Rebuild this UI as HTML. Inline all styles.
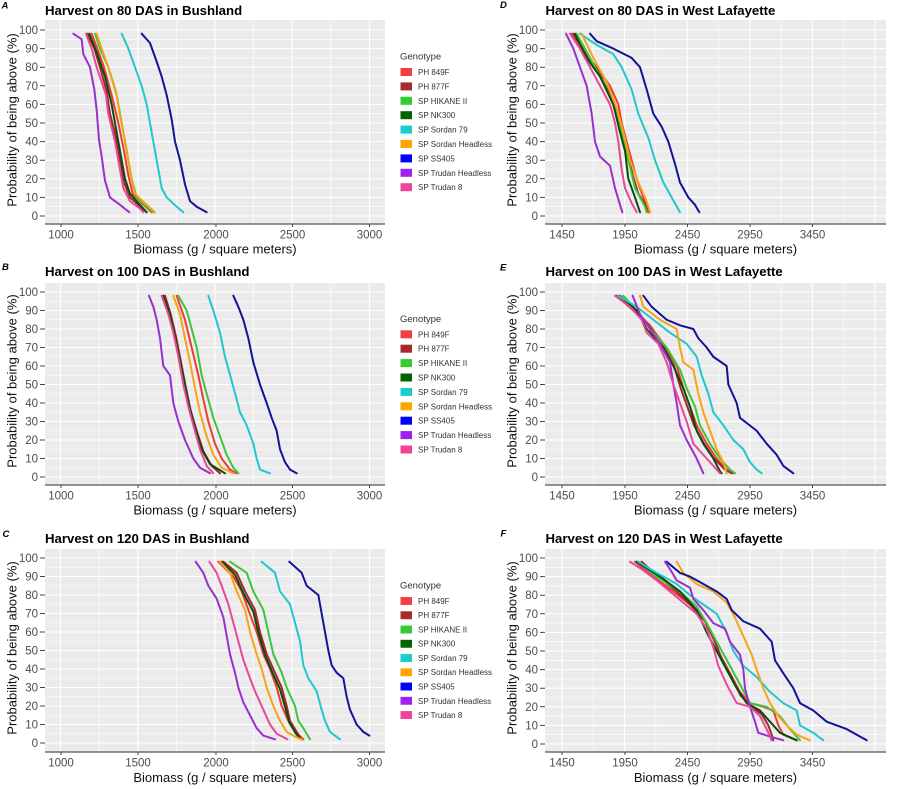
<!DOCTYPE html>
<html><head><meta charset="utf-8"><style>
html,body{margin:0;padding:0;background:#fff;}
svg{display:block;}
text{font-family:"Liberation Sans",Arial,sans-serif;}
.tt{font-size:13.2px;font-weight:bold;fill:#000;}
.lt{font-size:9.5px;font-weight:bold;font-style:italic;fill:#000;}
.ax{font-size:13px;fill:#111;}
.tk{font-size:11.5px;fill:#4d4d4d;}
.lg{font-size:8px;fill:#333;}
.lgt{font-size:9.5px;fill:#333;}
.gmin{stroke:#fff;stroke-width:0.6;fill:none;vector-effect:non-scaling-stroke;}
.gmaj{stroke:#fff;stroke-width:1.1;fill:none;vector-effect:non-scaling-stroke;}
.c{fill:none;stroke-width:2;stroke-linejoin:round;stroke-linecap:round;vector-effect:non-scaling-stroke;}
.r{stroke:#ee3b3b}.dr{stroke:#a0282a}.g{stroke:#3ec43e}.dg{stroke:#0a4d0a}.cy{stroke:#20c8cc}.o{stroke:#f7a414}.b{stroke:#13139a}.p{stroke:#9a2fd0}.pk{stroke:#e8479a}
.axl{stroke:#555;stroke-width:1.2;}
.tm{stroke:#444;stroke-width:1;}
</style></head><body>
<svg width="900" height="789" viewBox="0 0 900 789" xmlns="http://www.w3.org/2000/svg">
<rect width="900" height="789" fill="#fff"/>

<!-- backgrounds -->
<rect x="45" y="20" width="340" height="204" fill="#ebebeb"/>
<rect x="45" y="283" width="340" height="202" fill="#ebebeb"/>
<rect x="45" y="549" width="340" height="203" fill="#ebebeb"/>
<rect x="545" y="20" width="341" height="204" fill="#ebebeb"/>
<rect x="545" y="283" width="341" height="202" fill="#ebebeb"/>
<rect x="545" y="549" width="341" height="203" fill="#ebebeb"/>

<defs>
<g id="gridL">
<path class="gmin" d="M135,5H1155M135,15H1155M135,25H1155M135,35H1155M135,45H1155M135,55H1155M135,65H1155M135,75H1155M135,85H1155M135,95H1155"/>
<path class="gmaj" d="M135,0H1155M135,10H1155M135,20H1155M135,30H1155M135,40H1155M135,50H1155M135,60H1155M135,70H1155M135,80H1155M135,90H1155M135,100H1155"/>
<path class="gmin" d="M297.3,-4.3V105M529,-4.3V105M760.9,-4.3V105M992.6,-4.3V105"/>
<path class="gmaj" d="M181.5,-4.3V105M413.2,-4.3V105M645,-4.3V105M876.8,-4.3V105M1108.5,-4.3V105"/>
</g>
<g id="gridR">
<path class="gmin" d="M285,5H1308M285,15H1308M285,25H1308M285,35H1308M285,45H1308M285,55H1308M285,65H1308M285,75H1308M285,85H1308M285,95H1308"/>
<path class="gmaj" d="M285,0H1308M285,10H1308M285,20H1308M285,30H1308M285,40H1308M285,50H1308M285,60H1308M285,70H1308M285,80H1308M285,90H1308M285,100H1308"/>
<path class="gmin" d="M430,-4.3V105M617.7,-4.3V105M805.5,-4.3V105M993.3,-4.3V105M1181,-4.3V105"/>
<path class="gmaj" d="M336,-4.3V105M523.8,-4.3V105M711.6,-4.3V105M899.4,-4.3V105M1087.2,-4.3V105M1275,-4.3V105"/>
</g>
</defs>

<!-- Panel A -->
<g transform="matrix(0.33333,0,0,-1.86,0,216)">
<use href="#gridL"/>
<polyline class="c r" points="275,98 292,90 312,80 335,65 355,50 372,35 385,22 398,12 425,7 455,2"/>
<polyline class="c dr" points="262,98 283,90 300,80 320,67 330,55 348,42 360,30 372,18 390,10 415,6 440,2"/>
<polyline class="c g" points="285,98 300,90 325,80 350,65 365,50 380,35 395,20 410,10 440,5 460,2"/>
<polyline class="c dg" points="268,98 290,88 315,75 335,60 350,45 365,30 375,20 390,12 420,6 440,2"/>
<polyline class="c cy" points="365,98 385,90 405,80 425,70 440,60 450,50 460,40 470,30 485,15 500,10 530,5 550,2"/>
<polyline class="c o" points="290,98 305,90 325,80 348,67 362,52 378,38 392,22 405,12 440,6 465,2"/>
<polyline class="c b" points="425,98 450,93 470,83 485,75 500,65 515,52 525,40 540,30 555,17 570,8 590,5 620,2"/>
<polyline class="c p" points="220,98 245,95 250,87 270,80 283,68 290,57 297,41 305,32 315,19 330,10 360,6 388,2"/>
<polyline class="c pk" points="258,98 275,90 290,80 318,65 325,55 345,40 355,30 370,15 390,8 420,4 430,2"/>
</g>

<!-- Panel B -->
<g transform="matrix(0.33333,0,0,-1.85,0,477)">
<use href="#gridL"/>
<polyline class="c r" points="530,98 555,85 575,70 595,55 610,42 625,30 645,18 665,10 690,4 710,2"/>
<polyline class="c dr" points="495,98 512,88 528,76 543,62 558,48 572,36 590,25 610,14 635,6 660,2"/>
<polyline class="c g" points="535,98 560,90 575,80 590,70 605,55 620,45 640,32 660,22 680,12 700,5 715,2"/>
<polyline class="c dg" points="490,98 510,88 525,76 540,63 555,50 568,38 585,27 605,15 630,7 675,2"/>
<polyline class="c cy" points="625,98 640,90 660,78 675,65 695,52 710,42 720,35 740,28 760,18 770,10 780,4 810,2"/>
<polyline class="c o" points="520,98 540,88 555,75 570,62 585,48 600,35 620,22 640,12 665,5 700,2"/>
<polyline class="c b" points="700,98 715,92 730,85 745,75 760,62 780,50 800,40 815,32 830,25 840,15 855,8 870,4 890,2"/>
<polyline class="c p" points="447,98 460,92 470,85 480,75 490,60 510,55 520,40 535,30 555,20 580,10 600,5 630,2"/>
<polyline class="c pk" points="485,98 505,88 520,78 535,65 550,50 565,38 580,28 600,15 620,6 640,2"/>
</g>

<!-- Panel C -->
<g transform="matrix(0.33333,0,0,-1.85,0,743)">
<use href="#gridL"/>
<polyline class="c r" points="655,98 700,90 725,82 745,72 770,60 790,48 810,40 830,30 845,20 865,12 885,6 910,2"/>
<polyline class="c dr" points="670,98 710,92 735,82 765,72 780,60 800,48 825,38 845,30 860,20 870,12 890,6 905,2"/>
<polyline class="c g" points="690,98 740,92 760,82 790,72 805,60 820,48 845,38 860,30 885,20 895,12 910,8 930,2"/>
<polyline class="c dg" points="665,98 705,91 730,81 760,71 776,59 796,47 820,37 840,29 856,19 868,11 888,5 903,2"/>
<polyline class="c cy" points="785,98 825,92 840,82 870,75 885,65 900,55 910,42 925,35 950,28 965,18 975,12 990,6 1020,2"/>
<polyline class="c o" points="660,98 690,92 710,82 735,72 750,60 770,48 785,40 800,30 820,20 840,12 860,6 890,3 905,2"/>
<polyline class="c b" points="868,98 905,92 920,85 955,80 965,70 975,60 985,50 995,42 1010,38 1030,35 1040,25 1050,18 1070,10 1090,6 1108,4"/>
<polyline class="c p" points="587,98 610,92 625,85 650,78 670,68 680,58 690,48 705,38 715,30 730,22 750,15 770,8 790,4 825,2"/>
<polyline class="c pk" points="628,98 650,92 665,85 685,75 700,65 715,55 730,45 750,35 765,28 790,18 810,10 830,5 862,2"/>
</g>

<!-- Panel D -->
<g transform="matrix(0.33333,0,0,-1.86,450,216)">
<use href="#gridR"/>
<polyline class="c r" points="365,98 400,88 440,80 480,70 505,60 515,50 530,40 545,30 560,20 580,10 595,2"/>
<polyline class="c dr" points="370,98 405,88 445,78 478,66 500,55 518,45 532,35 548,22 565,12 590,5 600,2"/>
<polyline class="c g" points="380,98 420,85 460,72 490,60 515,45 535,30 555,15 585,5 590,2"/>
<polyline class="c dg" points="375,98 410,85 450,75 490,60 510,45 525,35 535,20 555,10 570,2"/>
<polyline class="c cy" points="390,98 440,92 490,87 515,80 545,68 565,55 595,42 615,30 640,18 665,10 690,2"/>
<polyline class="c o" points="395,98 430,85 470,72 500,58 520,45 540,30 565,18 590,8 600,2"/>
<polyline class="c b" points="420,98 440,94 490,90 545,85 570,80 590,68 610,55 635,48 655,40 675,28 690,18 715,10 735,6 748,2"/>
<polyline class="c p" points="348,98 370,90 390,80 410,70 425,55 435,40 450,32 480,27 495,15 510,6 517,2"/>
<polyline class="c pk" points="360,98 390,90 420,80 450,70 480,60 495,50 505,40 515,25 525,15 545,7 560,2"/>
</g>

<!-- Panel E -->
<g transform="matrix(0.33333,0,0,-1.85,450,477)">
<use href="#gridR"/>
<polyline class="c r" points="505,98 555,90 600,82 640,72 680,60 700,48 720,38 740,28 770,18 800,10 830,4 850,2"/>
<polyline class="c dr" points="500,98 550,90 595,82 635,72 672,60 692,48 712,38 732,28 762,18 792,10 825,4 845,2"/>
<polyline class="c g" points="520,98 570,88 600,80 650,70 690,58 710,48 735,38 750,28 780,18 810,10 840,4 855,2"/>
<polyline class="c dg" points="510,98 560,90 590,80 640,70 670,60 700,48 720,38 740,25 760,18 790,10 810,3 815,2"/>
<polyline class="c cy" points="505,98 560,92 610,85 660,78 710,72 740,65 755,55 775,45 790,35 820,28 850,20 880,15 900,8 920,4 935,2"/>
<polyline class="c o" points="570,98 580,92 630,85 680,80 690,70 700,62 730,58 745,45 760,35 780,25 800,15 820,8 830,2"/>
<polyline class="c b" points="580,98 605,92 650,85 690,82 730,80 745,75 770,70 790,65 830,60 835,50 860,40 870,32 920,25 950,18 980,12 1000,6 1030,2"/>
<polyline class="c p" points="548,98 570,88 600,80 630,72 660,62 670,50 680,40 690,28 710,20 740,10 760,2"/>
<polyline class="c pk" points="495,98 540,92 575,85 590,78 625,72 650,62 670,50 690,40 710,30 730,18 770,10 800,4 810,2"/>
</g>

<!-- Panel F -->
<g transform="matrix(0.33333,0,0,-1.86,450,744)">
<use href="#gridR"/>
<polyline class="c r" points="555,98 610,90 670,82 720,75 760,68 790,58 810,48 840,38 870,28 900,22 940,20 970,18 985,10 1000,5 1040,2"/>
<polyline class="c dr" points="575,98 625,90 680,82 725,74 765,66 792,56 815,46 845,36 872,26 905,20 935,16 955,10 965,5 970,2"/>
<polyline class="c g" points="565,98 620,90 690,82 740,74 770,65 800,55 840,42 870,32 900,22 950,20 990,15 1020,8 1050,2"/>
<polyline class="c dg" points="560,98 630,90 690,82 740,72 770,60 800,50 830,40 860,30 890,22 930,18 960,12 990,6 1040,2"/>
<polyline class="c cy" points="565,98 620,92 680,86 720,80 760,75 800,70 830,60 850,50 880,42 920,36 960,28 1000,22 1040,18 1050,10 1090,6 1120,2"/>
<polyline class="c o" points="680,98 700,92 740,86 790,82 830,76 855,68 880,58 905,48 920,40 940,30 960,22 985,15 1010,10 1040,5 1080,2"/>
<polyline class="c b" points="650,98 690,92 720,90 760,86 800,82 830,78 845,72 880,66 930,62 965,55 975,45 1000,38 1030,30 1050,22 1090,18 1130,12 1190,8 1250,2"/>
<polyline class="c p" points="645,98 660,94 680,88 720,84 730,78 760,72 790,65 825,62 840,55 870,48 880,40 885,30 900,20 915,12 925,6 960,4 1000,2"/>
<polyline class="c pk" points="540,98 575,94 620,88 660,82 700,76 740,70 770,62 790,52 805,42 830,32 860,22 900,20 930,15 950,8 965,2"/>
</g>

<!-- axis lines -->
<line class="axl" x1="45" y1="224" x2="385" y2="224"/>
<line class="axl" x1="45" y1="485" x2="385" y2="485"/>
<line class="axl" x1="45" y1="752" x2="385" y2="752"/>
<line class="axl" x1="545" y1="224" x2="886" y2="224"/>
<line class="axl" x1="545" y1="485" x2="886" y2="485"/>
<line class="axl" x1="545" y1="752" x2="886" y2="752"/>

<!-- y tick marks -->
<path class="tm" d="M40,216H45M40,197.4H45M40,178.8H45M40,160.2H45M40,141.6H45M40,123H45M40,104.4H45M40,85.8H45M40,67.2H45M40,48.6H45M40,30H45
M40,477H45M40,458.5H45M40,440H45M40,421.5H45M40,403H45M40,384.5H45M40,366H45M40,347.5H45M40,329H45M40,310.5H45M40,292H45
M40,743H45M40,724.5H45M40,706H45M40,687.5H45M40,669H45M40,650.5H45M40,632H45M40,613.5H45M40,595H45M40,576.5H45M40,558H45
M540,216H545M540,197.4H545M540,178.8H545M540,160.2H545M540,141.6H545M540,123H545M540,104.4H545M540,85.8H545M540,67.2H545M540,48.6H545M540,30H545
M540,477H545M540,458.5H545M540,440H545M540,421.5H545M540,403H545M540,384.5H545M540,366H545M540,347.5H545M540,329H545M540,310.5H545M540,292H545
M540,744H545M540,725.4H545M540,706.8H545M540,688.2H545M540,669.6H545M540,651H545M540,632.4H545M540,613.8H545M540,595.2H545M540,576.6H545M540,558H545"/>
<!-- x tick marks -->
<path class="tm" d="M61,224V227M138,224V227M216,224V227M292.5,224V227M369.5,224V227
M61,485V488M138,485V488M216,485V488M292.5,485V488M369.5,485V488
M61,752V755M138,752V755M216,752V755M292.5,752V755M369.5,752V755
M562,224V227M625,224V227M687.5,224V227M750,224V227M812.5,224V227
M562,485V488M625,485V488M687.5,485V488M750,485V488M812.5,485V488
M562,752V755M625,752V755M687.5,752V755M750,752V755M812.5,752V755"/>

<!-- y tick labels -->
<g class="tk" text-anchor="end">
<text x="38" y="220">0</text><text x="38" y="201.4">10</text><text x="38" y="182.8">20</text><text x="38" y="164.2">30</text><text x="38" y="145.6">40</text><text x="38" y="127">50</text><text x="38" y="108.4">60</text><text x="38" y="89.8">70</text><text x="38" y="71.2">80</text><text x="38" y="52.6">90</text><text x="38" y="34">100</text>
<text x="38" y="481">0</text><text x="38" y="462.5">10</text><text x="38" y="444">20</text><text x="38" y="425.5">30</text><text x="38" y="407">40</text><text x="38" y="388.5">50</text><text x="38" y="370">60</text><text x="38" y="351.5">70</text><text x="38" y="333">80</text><text x="38" y="314.5">90</text><text x="38" y="296">100</text>
<text x="38" y="747">0</text><text x="38" y="728.5">10</text><text x="38" y="710">20</text><text x="38" y="691.5">30</text><text x="38" y="673">40</text><text x="38" y="654.5">50</text><text x="38" y="636">60</text><text x="38" y="617.5">70</text><text x="38" y="599">80</text><text x="38" y="580.5">90</text><text x="38" y="562">100</text>
<text x="538" y="220">0</text><text x="538" y="201.4">10</text><text x="538" y="182.8">20</text><text x="538" y="164.2">30</text><text x="538" y="145.6">40</text><text x="538" y="127">50</text><text x="538" y="108.4">60</text><text x="538" y="89.8">70</text><text x="538" y="71.2">80</text><text x="538" y="52.6">90</text><text x="538" y="34">100</text>
<text x="538" y="481">0</text><text x="538" y="462.5">10</text><text x="538" y="444">20</text><text x="538" y="425.5">30</text><text x="538" y="407">40</text><text x="538" y="388.5">50</text><text x="538" y="370">60</text><text x="538" y="351.5">70</text><text x="538" y="333">80</text><text x="538" y="314.5">90</text><text x="538" y="296">100</text>
<text x="538" y="748">0</text><text x="538" y="729.4">10</text><text x="538" y="710.8">20</text><text x="538" y="692.2">30</text><text x="538" y="673.6">40</text><text x="538" y="655">50</text><text x="538" y="636.4">60</text><text x="538" y="617.8">70</text><text x="538" y="599.2">80</text><text x="538" y="580.6">90</text><text x="538" y="562">100</text>
</g>

<!-- x tick labels -->
<g class="tk" text-anchor="middle">
<text x="61" y="238.5">1000</text><text x="138" y="238.5">1500</text><text x="216" y="238.5">2000</text><text x="292.5" y="238.5">2500</text><text x="369.5" y="238.5">3000</text>
<text x="61" y="499.5">1000</text><text x="138" y="499.5">1500</text><text x="216" y="499.5">2000</text><text x="292.5" y="499.5">2500</text><text x="369.5" y="499.5">3000</text>
<text x="61" y="766.5">1000</text><text x="138" y="766.5">1500</text><text x="216" y="766.5">2000</text><text x="292.5" y="766.5">2500</text><text x="369.5" y="766.5">3000</text>
<text x="562" y="238.5">1450</text><text x="625" y="238.5">1950</text><text x="687.5" y="238.5">2450</text><text x="750" y="238.5">2950</text><text x="812.5" y="238.5">3450</text>
<text x="562" y="499.5">1450</text><text x="625" y="499.5">1950</text><text x="687.5" y="499.5">2450</text><text x="750" y="499.5">2950</text><text x="812.5" y="499.5">3450</text>
<text x="562" y="766.5">1450</text><text x="625" y="766.5">1950</text><text x="687.5" y="766.5">2450</text><text x="750" y="766.5">2950</text><text x="812.5" y="766.5">3450</text>
</g>

<!-- axis titles -->
<g class="ax" text-anchor="middle">
<text x="215" y="253.5">Biomass (g / square meters)</text>
<text x="215" y="514.5">Biomass (g / square meters)</text>
<text x="215" y="782">Biomass (g / square meters)</text>
<text x="715.5" y="253.5">Biomass (g / square meters)</text>
<text x="715.5" y="514.5">Biomass (g / square meters)</text>
<text x="715.5" y="782">Biomass (g / square meters)</text>
<text transform="translate(16.5,120) rotate(-90)">Probability of being above (%)</text>
<text transform="translate(16.5,381) rotate(-90)">Probability of being above (%)</text>
<text transform="translate(16.5,648) rotate(-90)">Probability of being above (%)</text>
<text transform="translate(516.5,120) rotate(-90)">Probability of being above (%)</text>
<text transform="translate(516.5,381) rotate(-90)">Probability of being above (%)</text>
<text transform="translate(516.5,648) rotate(-90)">Probability of being above (%)</text>
</g>

<!-- titles & letters -->
<text class="tt" x="45" y="15">Harvest on 80 DAS in Bushland</text>
<text class="tt" x="45" y="276">Harvest on 100 DAS in Bushland</text>
<text class="tt" x="45" y="543">Harvest on 120 DAS in Bushland</text>
<text class="tt" x="545.5" y="15">Harvest on 80 DAS in West Lafayette</text>
<text class="tt" x="545.5" y="276">Harvest on 100 DAS in West Lafayette</text>
<text class="tt" x="545.5" y="543">Harvest on 120 DAS in West Lafayette</text>
<text class="lt" x="1.5" y="8.5">A</text>
<text class="lt" x="2" y="270">B</text>
<text class="lt" x="2.5" y="537">C</text>
<text class="lt" x="500" y="8">D</text>
<text class="lt" x="500" y="270.5">E</text>
<text class="lt" x="500.5" y="536.5">F</text>

<!-- legends -->
<defs>
<g id="leg">
<text class="lgt" x="0" y="-12.5">Genotype</text>
<rect x="0.5" y="-4" width="11.5" height="8" fill="#f24040"/>
<rect x="0.5" y="10.4" width="11.5" height="8" fill="#a52a2a"/>
<rect x="0.5" y="24.8" width="11.5" height="8" fill="#33cc33"/>
<rect x="0.5" y="39.2" width="11.5" height="8" fill="#006400"/>
<rect x="0.5" y="53.6" width="11.5" height="8" fill="#1ccccc"/>
<rect x="0.5" y="68" width="11.5" height="8" fill="#ffa500"/>
<rect x="0.5" y="82.4" width="11.5" height="8" fill="#0000ff"/>
<rect x="0.5" y="96.8" width="11.5" height="8" fill="#a020f0"/>
<rect x="0.5" y="111.2" width="11.5" height="8" fill="#f0449a"/>
<text class="lg" x="18" y="3">PH 849F</text>
<text class="lg" x="18" y="17.4">PH 877F</text>
<text class="lg" x="18" y="31.8">SP HIKANE II</text>
<text class="lg" x="18" y="46.2">SP NK300</text>
<text class="lg" x="18" y="60.6">SP Sordan 79</text>
<text class="lg" x="18" y="75">SP Sordan Headless</text>
<text class="lg" x="18" y="89.4">SP SS405</text>
<text class="lg" x="18" y="103.8">SP Trudan Headless</text>
<text class="lg" x="18" y="118.2">SP Trudan 8</text>
</g>
</defs>
<use href="#leg" transform="translate(400,72)"/>
<use href="#leg" transform="translate(400,334.3)"/>
<use href="#leg" transform="translate(400,601) scale(1,0.99)"/>
</svg>
</body></html>
